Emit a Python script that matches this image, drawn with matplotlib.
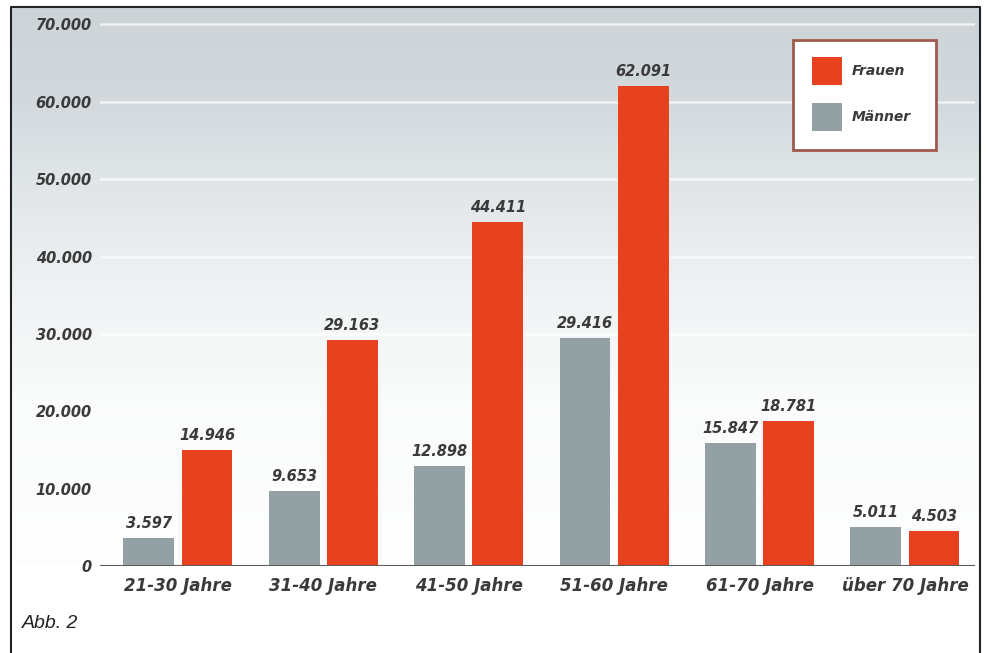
import numpy as np
import matplotlib
matplotlib.use('Agg')
import matplotlib.pyplot as plt
from matplotlib.lines import Line2D
from matplotlib.patches import Rectangle

# Altersgruppen und Werte
categories = ['21-30 Jahre', '31-40 Jahre', '41-50 Jahre', '51-60 Jahre',
              '61-70 Jahre', 'über 70 Jahre']
maenner = [3597, 9653, 12898, 29416, 15847, 5011]
frauen = [14946, 29163, 44411, 62091, 18781, 4503]
yticks = [0, 10000, 20000, 30000, 40000, 50000, 60000, 70000]

RED = '#e8411f'
GREY = '#93a1a4'
TXT = '#3a3a3a'

W, H = 987, 653
fig = plt.figure(figsize=(W / 100, H / 100), dpi=100)
fig.patch.set_facecolor('white')


def px(x0, y0, x1, y1):
    # pixel box (top-left origin) -> figure fraction rect
    return [x0 / W, 1 - y1 / H, (x1 - x0) / W, (y1 - y0) / H]


# background gradient of the scanned chart
bg = fig.add_axes(px(12, 8, 979, 566), zorder=0)
rows = np.linspace(0, 1, 300)
stops = [0.0, 0.16, 0.31, 0.52, 0.70, 1.0]
r = np.interp(rows, stops, [205, 210, 224, 240, 250, 254])
g = np.interp(rows, stops, [212, 216, 229, 243, 251, 254])
b = np.interp(rows, stops, [216, 220, 232, 244, 251, 254])
grad = np.stack([r, g, b], axis=1)[:, None, :] / 255.0
bg.imshow(np.repeat(grad, 4, axis=1), aspect='auto', extent=[0, 1, 0, 1],
          origin='upper')
bg.set_axis_off()

ax = fig.add_axes(px(100, 8, 975, 566), zorder=1)
ax.patch.set_alpha(0)

n = len(categories)
x = np.arange(n)
bw = 0.35
off = 0.2
ax.set_xlim(-0.536, 5.482)
ax.set_ylim(0, 72130)

for yv in yticks[1:]:
    ax.axhline(yv, color='white', lw=1.8, alpha=0.7, zorder=1)

ax.bar(x - off, maenner, bw, color=GREY, zorder=3)
ax.bar(x + off, frauen, bw, color=RED, zorder=3)

for xi, m, f in zip(x, maenner, frauen):
    for xx, v in ((xi - off, m), (xi + off, f)):
        ax.text(xx, v + 900, f'{v:,}'.replace(',', '.'), ha='center',
                va='bottom', fontsize=10.5, fontweight='bold', style='italic',
                color=TXT, zorder=4)

ax.axhline(0, color='#5a5a5a', lw=2.2, zorder=5)

for s in ax.spines.values():
    s.set_visible(False)
ax.set_xticks(x)
ax.set_xticklabels(categories, fontsize=12, fontweight='bold',
                   style='italic', color=TXT)
ax.tick_params(axis='x', length=0, pad=8)
ax.set_yticks(yticks)
ax.set_yticklabels(['0'] + [f'{v:,}'.replace(',', '.') for v in yticks[1:]],
                   fontsize=10.5, fontweight='bold', style='italic', color=TXT)
ax.tick_params(axis='y', length=0, pad=6)

# legend box
lx0, ly0, lx1, ly1 = 793, 40, 936, 150
fig.patches.append(Rectangle((lx0 / W, 1 - ly1 / H), (lx1 - lx0) / W,
                             (ly1 - ly0) / H, transform=fig.transFigure,
                             facecolor='white', edgecolor='#a05a4c', lw=2,
                             zorder=5))
for (yc, col, lab) in ((71, RED, 'Frauen'), (117, GREY, 'Männer')):
    fig.patches.append(Rectangle((812 / W, 1 - (yc + 14) / H), 30 / W,
                                 28 / H, transform=fig.transFigure,
                                 facecolor=col, edgecolor='none', zorder=6))
    fig.text(852 / W, 1 - yc / H, lab, fontsize=10, fontweight='bold',
             style='italic', color=TXT, va='center', ha='left', zorder=7)

# page frame
fig.lines.append(Line2D([11 / W, 11 / W, 980 / W, 980 / W],
                        [0, 1 - 7 / H, 1 - 7 / H, 0],
                        transform=fig.transFigure, color='#222222', lw=1.5))

fig.text(22 / W, 1 - 624 / H, 'Abb. 2', fontsize=14, style='italic',
         family='Liberation Sans', color='#222222', va='center', ha='left')

fig.savefig('out.png', dpi=100)
